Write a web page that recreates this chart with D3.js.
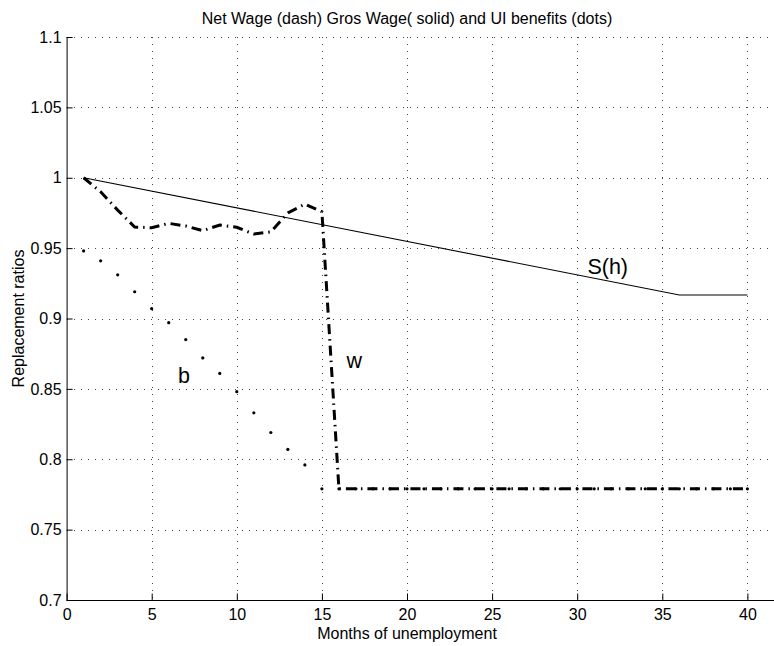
<!DOCTYPE html>
<html>
<head>
<meta charset="utf-8">
<script src="https://cdn.jsdelivr.net/npm/d3@7"></script>
<style>
  body { margin: 0; background: #fff; }
  svg { display: block; font-family: "Liberation Sans", Arial, sans-serif; }
</style>
</head>
<body>
<svg id="chart" width="774" height="646"></svg>
<script>
// months of unemployment
const months = d3.range(1, 41);
// gross wage S(h): kinks at 1, 36, 40
const grossMonths = [1, 36, 40];
const grossWage = [1.0, 0.9167, 0.9167];
// net wage (dash-dot), months 1..40
const netWage = [1.0, 0.990, 0.977, 0.965, 0.9645, 0.9676, 0.9657, 0.9624, 0.9664, 0.9648,
    0.960, 0.9616, 0.975, 0.9813, 0.9759, 0.779, 0.779, 0.779, 0.779, 0.779,
    0.779, 0.779, 0.779, 0.779, 0.779, 0.779, 0.779, 0.779, 0.779, 0.779,
    0.779, 0.779, 0.779, 0.779, 0.779, 0.779, 0.779, 0.779, 0.779, 0.779];
// UI benefits (dots)
const benefits = [0.948, 0.941, 0.931, 0.919, 0.907, 0.897, 0.885, 0.872, 0.861, 0.848,
    0.833, 0.819, 0.807, 0.796, 0.779, 0.779, 0.779, 0.779, 0.779, 0.779,
    0.779, 0.779, 0.779, 0.779, 0.779, 0.779, 0.779, 0.779, 0.779, 0.779,
    0.779, 0.779, 0.779, 0.779, 0.779, 0.779, 0.779, 0.779, 0.779, 0.779];
const xTicks = [0, 5, 10, 15, 20, 25, 30, 35, 40];
const yTicks = [0.7, 0.75, 0.8, 0.85, 0.9, 0.95, 1, 1.05, 1.1];
const labels = [
    {text: "b", x: 6.55, y: 0.854},
    {text: "w", x: 16.45, y: 0.865},
    {text: "S(h)", x: 30.6, y: 0.9316}
];

const svg = d3.select("#chart");
const pLeft = 66.6, pRight = 747.4, pTop = 37, pBottom = 600, pEdge = 774;

const x = d3.scaleLinear().domain([0, 40]).range([pLeft, pRight]);
const y = d3.scaleLinear().domain([0.7, 1.1]).range([pBottom, pTop]);

// grid
const grid = svg.append("g").attr("stroke", "#444").attr("stroke-width", 1)
    .attr("stroke-dasharray", "1,6").attr("shape-rendering", "crispEdges");
grid.selectAll(".gy").data(yTicks.slice(1)).join("line")
    .attr("x1", pLeft).attr("x2", pEdge)
    .attr("y1", d => Math.round(y(d)) + 0.5).attr("y2", d => Math.round(y(d)) + 0.5);
grid.selectAll(".gx").data(xTicks.slice(1)).join("line")
    .attr("y1", pTop).attr("y2", pBottom)
    .attr("x1", d => Math.round(x(d)) + 0.5).attr("x2", d => Math.round(x(d)) + 0.5);

// axes
const xAxis = d3.axisBottom(x).tickValues(xTicks).tickSize(-7).tickPadding(8).tickFormat(d3.format("d"));
const yAxis = d3.axisLeft(y).tickValues(yTicks).tickSize(-6).tickPadding(5).tickFormat(d => String(d));

const gx = svg.append("g").attr("transform", `translate(0,${pBottom + 0.5})`).call(xAxis);
const gy = svg.append("g").attr("transform", `translate(${pLeft},0)`).call(yAxis);
[gx, gy].forEach(g => {
    g.select(".domain").remove();
    g.selectAll(".tick line").attr("stroke", "#000");
    g.selectAll(".tick text").attr("font-size", 16).attr("fill", "#000")
        .attr("font-family", "'Liberation Sans', Arial, sans-serif");
});
svg.append("line").attr("x1", pLeft).attr("x2", pEdge)
    .attr("y1", pBottom + 0.5).attr("y2", pBottom + 0.5).attr("stroke", "#000");
svg.append("line").attr("x1", pLeft + 0.5).attr("x2", pLeft + 0.5)
    .attr("y1", pTop).attr("y2", pBottom).attr("stroke", "#000");

// gross wage
svg.append("path")
    .datum(grossMonths.map((m, i) => [m, grossWage[i]]))
    .attr("fill", "none").attr("stroke", "#000").attr("stroke-width", 1.1)
    .attr("d", d3.line().x(d => x(d[0])).y(d => y(d[1])));

// UI benefits
svg.append("g").selectAll("circle")
    .data(months.map((m, i) => [m, benefits[i]]))
    .join("circle")
    .attr("cx", d => x(d[0])).attr("cy", d => y(d[1])).attr("r", 1.6).attr("fill", "#000");

// net wage
svg.append("path")
    .datum(months.map((m, i) => [m, netWage[i]]))
    .attr("fill", "none").attr("stroke", "#000").attr("stroke-width", 3)
    .attr("stroke-dasharray", "10,5,1.5,5")
    .attr("d", d3.line().x(d => x(d[0])).y(d => y(d[1])));

// annotations
svg.append("g").selectAll("text").data(labels).join("text")
    .attr("x", d => x(d.x)).attr("y", d => y(d.y))
    .attr("font-size", 21.5).text(d => d.text);

// titles
svg.append("text").attr("x", (pLeft + pRight) / 2).attr("y", 24)
    .attr("text-anchor", "middle").attr("font-size", 16)
    .text("Net Wage (dash) Gros Wage( solid) and UI benefits (dots)");
svg.append("text").attr("x", (pLeft + pRight) / 2).attr("y", 639)
    .attr("text-anchor", "middle").attr("font-size", 16)
    .text("Months of unemployment");
svg.append("text").attr("transform", `translate(24,${(pTop + pBottom) / 2}) rotate(-90)`)
    .attr("text-anchor", "middle").attr("font-size", 16)
    .text("Replacement ratios");
</script>
</body>
</html>
